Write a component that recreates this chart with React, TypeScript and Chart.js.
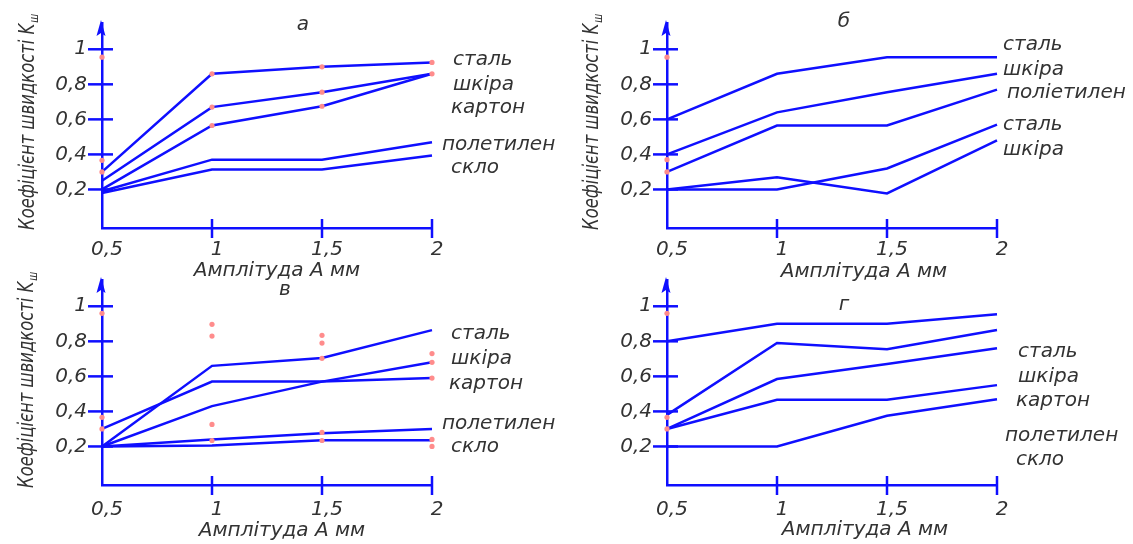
import React, { useEffect, useRef } from 'react';
import { Chart, registerables } from 'chart.js';

Chart.register(...registerables);

// ---------- data ----------
const amplitudes = ['0,5', '1', '1,5', '2'];
const yTickValues = [0.2, 0.4, 0.6, 0.8, 1];
const xAxisTitle = 'Амплітуда А мм';
const yAxisTitle = 'Коефіцієнт швидкості K';
const yAxisTitleSub = 'ш';

// panel а
const aSteel = [0.3, 0.86, 0.9, 0.925];
const aLeather = [0.25, 0.67, 0.755, 0.86];
const aCardboard = [0.2, 0.565, 0.675, 0.86];
const aPolyethylene = [0.19, 0.37, 0.37, 0.47];
const aGlass = [0.18, 0.314, 0.314, 0.394];
const aNames = ['сталь', 'шкіра', 'картон', 'полетилен', 'скло'];
const aDotX = ['0,5', '0,5', '0,5', '1', '1', '1', '1,5', '1,5', '1,5', '2', '2'];
const aDotY = [0.955, 0.366, 0.3, 0.86, 0.67, 0.565, 0.9, 0.755, 0.675, 0.925, 0.86];

// panel б
const bSteel1 = [0.6, 0.86, 0.955, 0.955];
const bLeather1 = [0.4, 0.64, 0.755, 0.86];
const bPolyethylene = [0.3, 0.565, 0.565, 0.77];
const bSteel2 = [0.2, 0.2, 0.32, 0.57];
const bLeather2 = [0.2, 0.27, 0.177, 0.48];
const bNames = ['сталь', 'шкіра', 'поліетилен', 'сталь', 'шкіра'];
const bDotX = ['0,5', '0,5', '0,5'];
const bDotY = [0.955, 0.37, 0.3];

// panel в
const cSteel = [0.2, 0.66, 0.705, 0.864];
const cLeather = [0.2, 0.43, 0.57, 0.68];
const cCardboard = [0.3, 0.57, 0.57, 0.59];
const cPolyethylene = [0.2, 0.24, 0.275, 0.3];
const cGlass = [0.2, 0.205, 0.235, 0.235];
const cNames = ['сталь', 'шкіра', 'картон', 'полетилен', 'скло'];
const cDotX = ['0,5', '0,5', '0,5', '1', '1', '1', '1', '1,5', '1,5', '1,5', '1,5', '1,5', '2', '2', '2', '2', '2'];
const cDotY = [0.96, 0.366, 0.3, 0.897, 0.83, 0.326, 0.234, 0.834, 0.79, 0.703, 0.28, 0.234, 0.73, 0.68, 0.59, 0.24, 0.2];

// panel г
const dSteel = [0.8, 0.9, 0.9, 0.955];
const dLeather = [0.38, 0.79, 0.755, 0.865];
const dCardboard = [0.3, 0.585, 0.67, 0.76];
const dPolyethylene = [0.3, 0.466, 0.466, 0.55];
const dGlass = [0.2, 0.2, 0.375, 0.47];
const dNames = ['сталь', 'шкіра', 'картон', 'полетилен', 'скло'];
const dDotX = ['0,5', '0,5', '0,5'];
const dDotY = [0.96, 0.366, 0.3];

// ---------- styles / layout ----------
const BLUE = '#0f0fff';
const PINK = '#ff8c8c';
const TEXT = '#333333';
const FAMILY = "'DejaVu Sans', 'Liberation Sans', sans-serif";
const FONT = `italic 20px ${FAMILY}`;

type Panel = {
  left: number; top: number; w: number; h: number;
  area: { left: number; right: number; top: number; bottom: number };
  lines: number[][];
  dotX: string[]; dotY: number[];
  title: string; titlePos: [number, number];
  xTitlePos: [number, number];
  yTitlePos: [number, number] | null;
  names: string[];
  namePos: [number, number][];
  xLabelPad: number;
};

const panels: Panel[] = [
  {
    left: 0, top: 0, w: 566, h: 290,
    area: { left: 102, right: 432, top: 23, bottom: 228 },
    lines: [aSteel, aLeather, aCardboard, aPolyethylene, aGlass],
    dotX: aDotX, dotY: aDotY,
    title: 'а', titlePos: [303, 25],
    xTitlePos: [277, 271],
    yTitlePos: [28, 122],
    names: aNames,
    namePos: [[453, 60], [453, 85], [451, 108], [442, 145], [451, 168]],
    xLabelPad: 10,
  },
  {
    left: 566, top: 0, w: 567, h: 290,
    area: { left: 101, right: 431, top: 23, bottom: 228 },
    lines: [bSteel1, bLeather1, bPolyethylene, bSteel2, bLeather2],
    dotX: bDotX, dotY: bDotY,
    title: 'б', titlePos: [278, 22],
    xTitlePos: [298, 272],
    yTitlePos: [26, 122],
    names: bNames,
    namePos: [[437, 45], [437, 70], [441, 93], [437, 125], [437, 150]],
    xLabelPad: 10,
  },
  {
    left: 0, top: 262, w: 566, h: 282,
    area: { left: 102, right: 432, top: 18, bottom: 223 },
    lines: [cSteel, cLeather, cCardboard, cPolyethylene, cGlass],
    dotX: cDotX, dotY: cDotY,
    title: 'в', titlePos: [285, 28],
    xTitlePos: [282, 269],
    yTitlePos: [27, 118],
    names: cNames,
    namePos: [[451, 72], [451, 97], [449, 122], [442, 162], [451, 185]],
    xLabelPad: 13,
  },
  {
    left: 566, top: 262, w: 567, h: 282,
    area: { left: 101, right: 431, top: 18, bottom: 223 },
    lines: [dSteel, dLeather, dCardboard, dPolyethylene, dGlass],
    dotX: dDotX, dotY: dDotY,
    title: 'г', titlePos: [278, 43],
    xTitlePos: [299, 268],
    yTitlePos: null,
    names: dNames,
    namePos: [[452, 90], [452, 115], [450, 139], [439, 174], [450, 198]],
    xLabelPad: 13,
  },
];

function fmt(v: number) {
  return String(v).replace('.', ',');
}

function buildConfig(p: Panel): any {
  const decor = {
    id: 'decor',
    afterDraw(chart: any) {
      const { ctx, chartArea, scales } = chart;
      const x = scales.x;
      const y = scales.y;
      ctx.save();
      ctx.strokeStyle = BLUE;
      ctx.fillStyle = BLUE;
      ctx.lineWidth = 2.5;
      // crossing tick marks on y
      yTickValues.forEach((v) => {
        const py = y.getPixelForValue(v);
        ctx.beginPath();
        ctx.moveTo(chartArea.left - 14, py);
        ctx.lineTo(chartArea.left + 11, py);
        ctx.stroke();
      });
      // crossing tick marks on x
      for (let i = 1; i < amplitudes.length; i++) {
        const px = x.getPixelForValue(i);
        ctx.beginPath();
        ctx.moveTo(px, chartArea.bottom - 9);
        ctx.lineTo(px, chartArea.bottom + 10);
        ctx.stroke();
      }
      // arrow on y axis
      const ax = chartArea.left - 1;
      const top = chartArea.top;
      ctx.beginPath();
      ctx.moveTo(ax, top - 3);
      ctx.lineTo(ax + 4.5, top + 13);
      ctx.lineTo(ax, top + 10);
      ctx.lineTo(ax - 4.5, top + 13);
      ctx.closePath();
      ctx.fill();

      // texts
      ctx.fillStyle = TEXT;
      ctx.font = FONT;
      ctx.textBaseline = 'middle';
      ctx.textAlign = 'center';
      ctx.fillText(p.title, p.titlePos[0], p.titlePos[1]);
      ctx.fillText(xAxisTitle, p.xTitlePos[0], p.xTitlePos[1]);
      ctx.textAlign = 'left';
      p.names.forEach((n, i) => {
        ctx.fillText(n, p.namePos[i][0], p.namePos[i][1]);
      });
      if (p.yTitlePos) {
        ctx.save();
        ctx.translate(p.yTitlePos[0], p.yTitlePos[1]);
        ctx.rotate(-Math.PI / 2);
        const mainFont = `italic 22px ${FAMILY}`;
        const subFont = `italic 13px ${FAMILY}`;
        ctx.font = mainFont;
        const w1 = ctx.measureText(yAxisTitle).width;
        ctx.font = subFont;
        const w2 = ctx.measureText(yAxisTitleSub).width;
        const total = w1 + w2 + 1;
        const target = 216;
        ctx.scale(target / total, 1);
        ctx.textAlign = 'left';
        ctx.font = mainFont;
        ctx.fillText(yAxisTitle, -total / 2, 0);
        ctx.font = subFont;
        ctx.fillText(yAxisTitleSub, -total / 2 + w1 + 1, 7);
        ctx.restore();
      }
      ctx.restore();
    },
  };

  const lineSets = p.lines.map((data) => ({
    data,
    borderColor: BLUE,
    borderWidth: 2.5,
    pointRadius: 0,
    tension: 0,
    fill: false,
    order: 1,
    clip: false,
  }));
  const dots = {
    data: p.dotX.map((xv, i) => ({ x: xv, y: p.dotY[i] })),
    showLine: false,
    pointRadius: 2.6,
    pointBackgroundColor: PINK,
    pointBorderWidth: 0,
    borderColor: PINK,
    order: 0,
    clip: false,
  };

  return {
    type: 'line',
    data: { labels: amplitudes, datasets: [dots, ...lineSets] },
    options: {
      responsive: false,
      animation: false,
      devicePixelRatio: 1,
      events: [],
      layout: {
        padding: { left: 0, top: p.area.top, right: p.w - p.area.right, bottom: 0 },
      },
      plugins: { legend: { display: false }, tooltip: { enabled: false }, title: { display: false } },
      scales: {
        x: {
          type: 'category',
          offset: false,
          grid: { display: false, drawTicks: false },
          border: { display: true, color: BLUE, width: 2.5 },
          ticks: {
            color: TEXT,
            font: { family: FAMILY, size: 20, style: 'italic' },
            padding: p.xLabelPad,
            labelOffset: 5,
            maxRotation: 0,
            autoSkip: false,
          },
          afterFit: (s: any) => {
            s.height = p.h - p.area.bottom;
            s.paddingLeft = 0;
            s.paddingRight = 0;
          },
        },
        y: {
          type: 'linear',
          min: -0.02,
          max: 1.15,
          grid: { display: false, drawTicks: false },
          border: { display: true, color: BLUE, width: 2.5 },
          afterBuildTicks: (s: any) => {
            s.ticks = yTickValues.map((v) => ({ value: v }));
          },
          ticks: {
            color: TEXT,
            font: { family: FAMILY, size: 20, style: 'italic' },
            padding: 15,
            callback: (v: any) => fmt(Number(v)),
          },
          afterFit: (s: any) => {
            s.width = p.area.left;
            s.paddingTop = 0;
            s.paddingBottom = 0;
          },
        },
      },
    },
    plugins: [decor],
  };
}

function PanelChart({ p }: { p: Panel }) {
  const ref = useRef<HTMLCanvasElement | null>(null);
  useEffect(() => {
    if (!ref.current) return;
    const chart = new Chart(ref.current, buildConfig(p));
    return () => chart.destroy();
  }, []);
  return (
    <canvas
      ref={ref}
      width={p.w}
      height={p.h}
      style={{ position: 'absolute', left: p.left, top: p.top, width: p.w, height: p.h }}
    />
  );
}

export default function App() {
  return (
    <div style={{ position: 'absolute', left: 0, top: 0, width: 1133, height: 544, background: '#ffffff', overflow: 'hidden' }}>
      {panels.map((p, i) => (
        <PanelChart key={i} p={p} />
      ))}
    </div>
  );
}
